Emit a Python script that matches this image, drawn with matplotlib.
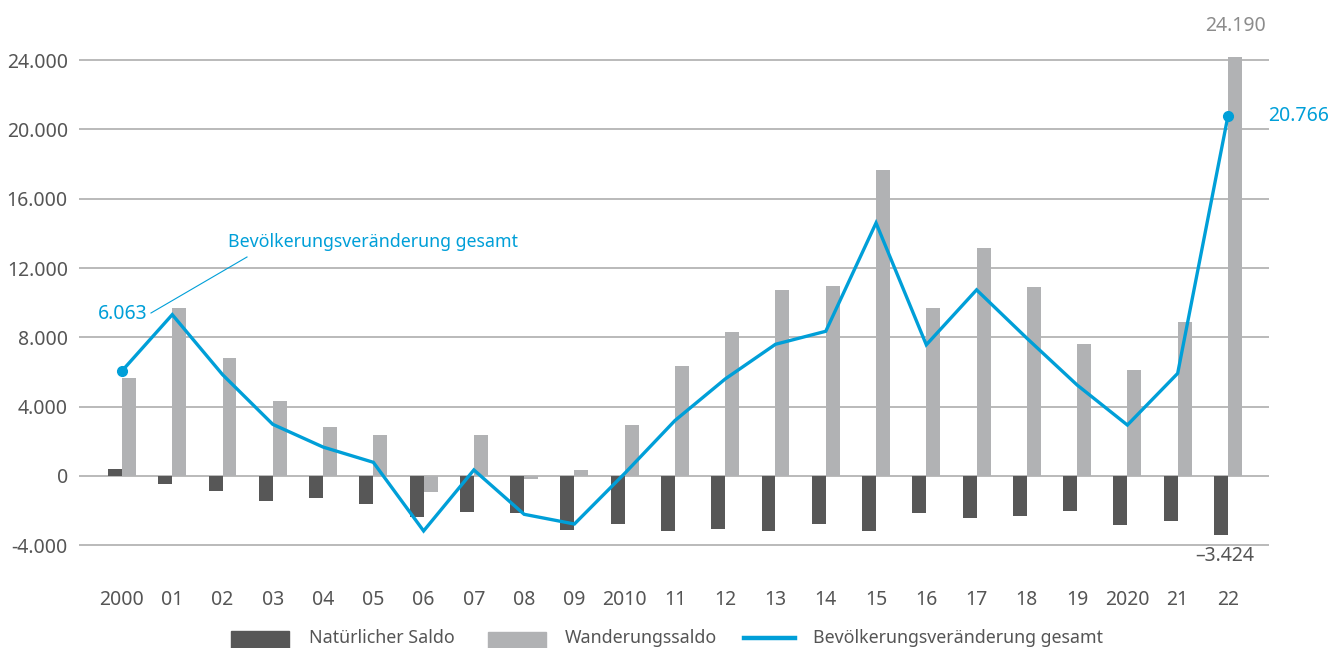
import matplotlib.pyplot as plt
from matplotlib.lines import Line2D
from matplotlib.patches import Rectangle
import numpy as np

plt.rcParams['font.family'] = ['Noto Sans', 'DejaVu Sans']

# data
years = ['2000', '01', '02', '03', '04', '05', '06', '07', '08', '09', '2010',
         '11', '12', '13', '14', '15', '16', '17', '18', '19', '2020', '21', '22']
natuerlich = [380, -480, -860, -1430, -1260, -1600, -2340, -2080, -2130, -3120, -2770,
              -3170, -3060, -3170, -2770, -3170, -2150, -2430, -2290, -2000, -2820, -2580, -3424]
wanderung = [5680, 9710, 6780, 4340, 2840, 2390, -950, 2370, -170, 350, 2940,
             6350, 8310, 10730, 10960, 17660, 9710, 13130, 10930, 7640, 6090, 8880, 24190]
gesamt = [6063, 9310, 5850, 2980, 1670, 790, -3170, 350, -2210, -2770, 150,
          3200, 5600, 7600, 8350, 14600, 7570, 10740, 7950, 5250, 2940, 5920, 20766]
yticks = [-4000, 0, 4000, 8000, 12000, 16000, 20000, 24000]

c_dark = '#575757'
c_light = '#b1b2b4'
c_blue = '#009fd8'
c_text = '#555555'
fs_num = 14
fs_word = 12.8

fig = plt.figure(figsize=(13.3, 6.48), dpi=100)
ax = fig.add_axes([0.0594, 0.1317, 0.8947, 0.8024])

x = np.arange(len(years))
w = 0.278
ax.bar(x - w / 2, natuerlich, w, color=c_dark, zorder=2)
ax.bar(x + w / 2, wanderung, w, color=c_light, zorder=2)
ax.plot(x, gesamt, color=c_blue, lw=2.4, zorder=3, solid_joinstyle='miter')
ax.plot([x[0], x[-1]], [gesamt[0], gesamt[-1]], 'o', color=c_blue, ms=7, zorder=4)

ax.set_xlim(-0.855, 22.816)
ax.set_ylim(-5000, 25000)
ax.set_yticks(yticks)
ax.set_yticklabels([f'{v:,}'.replace(',', '.') for v in yticks])
ax.set_xticks(x)
ax.set_xticklabels(years)
ax.grid(axis='y', color='#b4b4b4', lw=1.3, zorder=0)
ax.tick_params(length=0, labelsize=fs_num, colors=c_text)
ax.tick_params(axis='x', pad=20)
ax.tick_params(axis='y', pad=8)
for s in ax.spines.values():
    s.set_visible(False)

# value labels
ax.annotate('24.190', (x[-1] + w / 2, wanderung[-1]), xytext=(1, 31), textcoords='offset pixels',
            ha='center', va='center', fontsize=fs_num, color='#8c8c8c')
ax.annotate('20.766', (x[-1], gesamt[-1]), xytext=(40, 0), textcoords='offset pixels',
            ha='left', va='center', fontsize=fs_num, color=c_blue)
ax.annotate('\u20133.424', (x[-1] - w / 2, natuerlich[-1]), xytext=(4, -21), textcoords='offset pixels',
            ha='center', va='center', fontsize=fs_num, color=c_text)
ax.annotate('6.063', (x[0], gesamt[0]), xytext=(26, 57), textcoords='offset pixels',
            ha='right', va='center', fontsize=fs_num, color=c_blue)
ax.annotate('Bevölkerungsveränderung gesamt', (x[0], gesamt[0]), xytext=(106, 129),
            textcoords='offset pixels', ha='left', va='center', fontsize=fs_word, color=c_blue)
fig.add_artist(Line2D([151 / 1330, 247 / 1330], [1 - 313 / 648, 1 - 257 / 648],
                      color=c_blue, lw=0.8))

# legend
fy = 1 - 638 / 648
fig.add_artist(Rectangle((231 / 1330, 0), 58 / 1330, 17 / 648, color=c_dark))
fig.text(309 / 1330, fy, 'Natürlicher Saldo', fontsize=fs_word, color=c_text, va='center')
fig.add_artist(Rectangle((488 / 1330, 0), 58 / 1330, 16 / 648, color=c_light))
fig.text(565 / 1330, fy, 'Wanderungssaldo', fontsize=fs_word, color=c_text, va='center')
fig.add_artist(Line2D([744 / 1330, 795 / 1330], [fy, fy], color=c_blue, lw=3.2))
fig.text(813 / 1330, fy, 'Bevölkerungsveränderung gesamt', fontsize=fs_word, color=c_text, va='center')

fig.savefig('out.png', dpi=100)
